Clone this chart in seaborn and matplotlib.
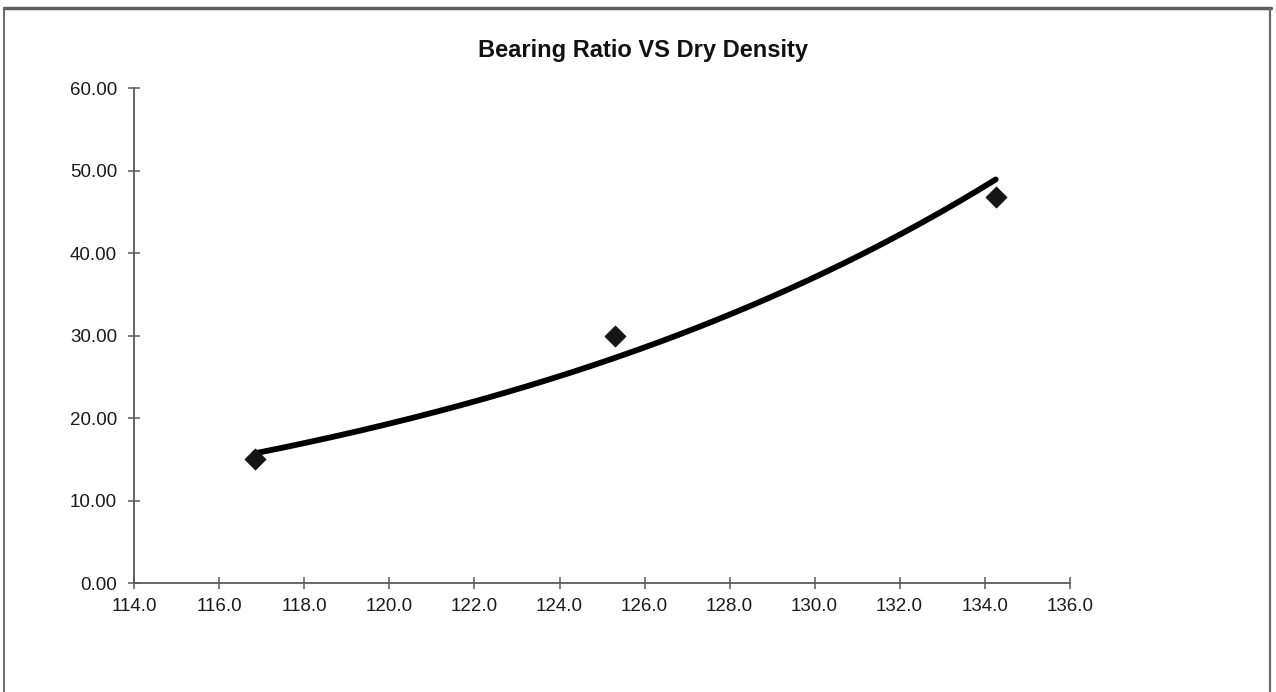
import numpy as np
import pandas as pd
import matplotlib
matplotlib.use("Agg")
import matplotlib.pyplot as plt
from matplotlib.lines import Line2D
import seaborn as sns

# data
dry_density = [116.83, 125.31, 134.26]
bearing_ratio = [15.0, 29.9, 46.8]
x_ticks = [114, 116, 118, 120, 122, 124, 126, 128, 130, 132, 134, 136]
y_ticks = [0, 10, 20, 30, 40, 50, 60]

df = pd.DataFrame({"density": dry_density, "cbr": bearing_ratio})

# exponential trendline (like Excel): ln(y) = b*x + ln(a)
b, ln_a = np.polyfit(df["density"], np.log(df["cbr"]), 1)
xs = np.linspace(min(dry_density), max(dry_density), 200)
trend = pd.DataFrame({"density": xs, "cbr": np.exp(ln_a + b * xs)})

sns.set_style("white")
plt.rcParams["font.family"] = ["Liberation Sans", "DejaVu Sans"]

fig = plt.figure(figsize=(12.76, 6.92), dpi=100)
ax = fig.add_axes([0.1053, 0.1575, 0.733, 0.7153])

sns.lineplot(data=trend, x="density", y="cbr", ax=ax, color="black", linewidth=4.2)
sns.scatterplot(data=df, x="density", y="cbr", ax=ax, marker="D", s=110,
                color="#151515", edgecolor="#151515", zorder=5)

ax.set_xlim(114, 136)
ax.set_ylim(0, 60)
ax.set_xticks(x_ticks)
ax.set_yticks(y_ticks)
ax.set_xticklabels([f"{t:.1f}" for t in x_ticks])
ax.set_yticklabels([f"{t:.2f}" for t in y_ticks])
ax.set_xlabel("")
ax.set_ylabel("")

for side in ["top", "right"]:
    ax.spines[side].set_visible(False)
for side in ["left", "bottom"]:
    ax.spines[side].set_color("#5a5a5a")
    ax.spines[side].set_linewidth(1.3)

ax.tick_params(axis="both", direction="inout", length=9, width=1.1,
               color="#5a5a5a", labelsize=13.5, labelcolor="#1a1a1a",
               bottom=True, left=True)
ax.tick_params(axis="x", pad=6)
ax.tick_params(axis="y", pad=8)

fig.text(0.504, 0.927, "Bearing Ratio VS Dry Density", ha="center", va="center",
         fontsize=17, fontweight="bold", color="#111111")

# scanned page frame
fig.add_artist(Line2D([0.003, 0.996], [0.988, 0.988], transform=fig.transFigure,
                      color="#5f5f5f", linewidth=2.5))
fig.add_artist(Line2D([0.0035, 0.0035], [0.0, 0.988], transform=fig.transFigure,
                      color="#6a6a6a", linewidth=1.4))
fig.add_artist(Line2D([0.9955, 0.9955], [0.0, 0.988], transform=fig.transFigure,
                      color="#6a6a6a", linewidth=1.6))

fig.savefig("out.png", dpi=100)
